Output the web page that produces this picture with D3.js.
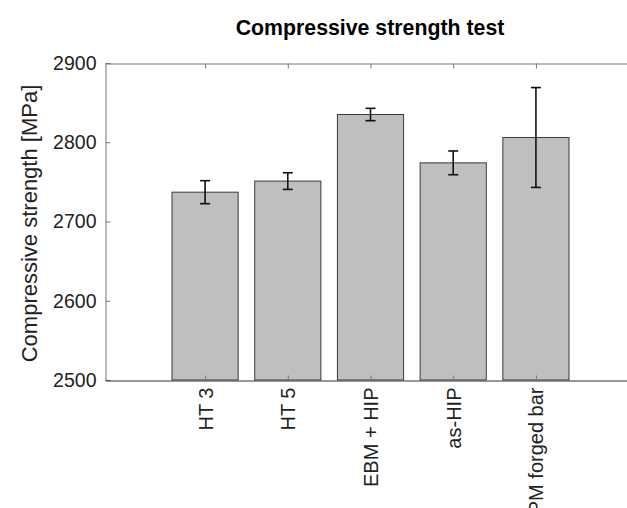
<!DOCTYPE html>
<html>
<head>
<meta charset="utf-8">
<script src="https://cdn.jsdelivr.net/npm/d3@7"></script>
<style>
  html, body { margin: 0; padding: 0; background: #fff; overflow: hidden; }
  svg { display: block; font-family: "Liberation Sans", Arial, Helvetica, sans-serif; }
</style>
</head>
<body>
<svg id="chart" width="627" height="508"></svg>
<script>
const categories = ["HT 3", "HT 5", "EBM + HIP", "as-HIP", "PM forged bar"];
const strength = [2737, 2751, 2835, 2774, 2806];
const errors = [14.5, 10.5, 7.8, 15, 63];
const yTicks = [2500, 2600, 2700, 2800, 2900];
const titleText = "Compressive strength test";
const yLabelText = "Compressive strength [MPa]";

const svg = d3.select("#chart");
const mLeft = 105, mTop = 63, mBottom = 380, mRight = 636;

const x = d3.scalePoint().domain(categories).range([mLeft, mRight]).padding(1.21);
const y = d3.scaleLinear().domain([2500, 2900]).range([mBottom, mTop]);
const barW = x.step() * 0.8;

const data = categories.map((c, i) => ({c, v: strength[i], e: errors[i]}));

// bars
svg.append("g").selectAll("rect").data(data).join("rect")
  .attr("x", d => x(d.c) - barW / 2)
  .attr("y", d => y(d.v))
  .attr("width", barW)
  .attr("height", d => y(2500) - y(d.v))
  .attr("fill", "#bfbfbf")
  .attr("stroke", "#3a3a3a")
  .attr("stroke-width", 1);

// error bars
const eb = svg.append("g").attr("stroke", "#111").attr("stroke-width", 1.6).attr("fill", "none");
data.forEach(d => {
  const cx = x(d.c);
  eb.append("line").attr("x1", cx).attr("x2", cx).attr("y1", y(d.v + d.e)).attr("y2", y(d.v - d.e));
  eb.append("line").attr("x1", cx - 5).attr("x2", cx + 5).attr("y1", y(d.v + d.e)).attr("y2", y(d.v + d.e));
  eb.append("line").attr("x1", cx - 5).attr("x2", cx + 5).attr("y1", y(d.v - d.e)).attr("y2", y(d.v - d.e));
});

// left axis
const yAxis = d3.axisLeft(y).tickValues(yTicks).tickSize(-5).tickPadding(9).tickFormat(d3.format("d"));
const gy = svg.append("g").attr("transform", `translate(${mLeft + 0.5},0)`).call(yAxis);
gy.select(".domain").attr("stroke", "#777");
gy.selectAll(".tick line").attr("stroke", "#777");
gy.selectAll(".tick text").attr("font-size", 19.5).attr("fill", "#222")
  .attr("font-family", "Liberation Sans, Arial, sans-serif");

// bottom axis
const xAxis = d3.axisBottom(x).tickSize(-5).tickSizeOuter(0).tickPadding(0);
const gx = svg.append("g").attr("transform", `translate(0,${mBottom + 0.5})`).call(xAxis);
gx.select(".domain").attr("stroke", "#333");
gx.selectAll(".tick line").attr("stroke", "#777");
gx.selectAll(".tick text")
  .attr("font-size", 20).attr("fill", "#222")
  .attr("font-family", "Liberation Sans, Arial, sans-serif")
  .attr("text-anchor", "end")
  .attr("transform", "rotate(-90)")
  .attr("x", -7).attr("y", 0).attr("dy", "0.35em");

// top axis (box)
const xTop = d3.axisTop(x).tickSize(-5).tickSizeOuter(0).tickFormat("");
const gt = svg.append("g").attr("transform", `translate(0,${mTop + 0.5})`).call(xTop);
gt.select(".domain").attr("stroke", "#777");
gt.selectAll(".tick line").attr("stroke", "#777");

// title
svg.append("text").attr("x", 370).attr("y", 35).attr("text-anchor", "middle")
  .attr("font-size", 21.3).attr("font-weight", "bold").attr("fill", "#000").text(titleText);

// y label
svg.append("text").attr("transform", `translate(37,${(mTop + mBottom) / 2 + 2}) rotate(-90)`)
  .attr("text-anchor", "middle").attr("font-size", 22).attr("fill", "#222").text(yLabelText);
</script>
</body>
</html>
